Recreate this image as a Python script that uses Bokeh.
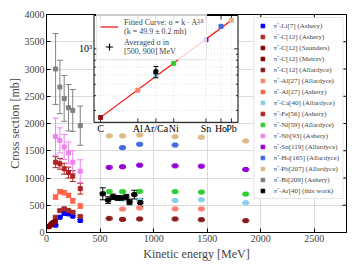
import math
from bokeh.plotting import figure
from bokeh.models import (ColumnDataSource, Whisker, TeeHead, Range1d, LogScale,
                          Legend, LegendItem, FixedTicker)
from bokeh.core.properties import value
from bokeh.embed import file_html
from bokeh.resources import INLINE

SERIF = "Liberation Serif"

# ---------------- data ----------------
ashery_E = [85, 125, 165, 205, 245, 315]
li_ashery = [135, 280, 350, 340, 300, 220]
li_ashery_err = [15, 15, 15, 15, 15, 15]
c_ashery = [280, 400, 435, 405, 370, 295]
c_ashery_err = [20, 20, 20, 20, 20, 20]
saunders_E = [20, 30, 40, 50, 60]
c_saunders = [105, 120, 140, 160, 180]
c_saunders_err = [10, 10, 10, 10, 10]
meirav_E = [50, 65, 80]
c_meirav = [150, 175, 205]
c_meirav_err = [12, 12, 12]
al_ashery = [650, 750, 730, 680, 580, 485]
al_ashery_err = [40, 40, 40, 40, 40, 40]
fe_ashery = [1290, 1260, 1170, 1100, 1035, 805]
fe_ashery_err = [100, 100, 100, 100, 100, 100]
nb_ashery = [1760, 1690, 1570, 1460, 1290, 1125]
nb_ashery_err = [340, 230, 230, 200, 210, 210]
bi_ashery = [3000, 2670, 2460, 2290, 2240, 1960]
bi_ashery_err = [650, 490, 420, 425, 385, 360]

allardyce_E = [585, 710, 870, 1200, 1445, 1860]
c_allardyce = [259, 241, 248, 248, 235, 217]
al_allardyce_E = [710, 870, 1200, 1445]
al_allardyce = [430, 450, 433, 433]
ca_allardyce_E = [710, 870, 1200, 1445, 1860]
ca_allardyce = [618, 590, 587, 600, 544]
ni_allardyce = [750, 750, 755, 750, 741, 705]
sn_allardyce = [1195, 1205, 1235, 1222, 1217, 1156]
ho_allardyce_E = [710, 870, 1200]
ho_allardyce = [1556, 1619, 1605]
pb_allardyce = [1772, 1772, 1790, 1759, 1748, 1680]
allardyce_xerr = 28
allardyce_yerr = 15

ar_E = [525, 575, 620, 665, 705, 745, 775, 820, 875]
ar_sigma = [710, 595, 655, 635, 630, 650, 560, 695, 550]
ar_err = [110, 60, 50, 45, 45, 50, 50, 80, 70]
ar_xerr = [25, 25, 25, 25, 25, 25, 25, 25, 25]

# inset (log-log): averaged sigma vs mass number
inset_tick_names = ["C", "Al", "Ar/Ca", "Ni", "Sn", "Ho", "Pb"]
inset_tick_A = [12, 27, 40, 59, 119, 165, 207]
inset_A = [12, 27, 40, 59, 119, 165, 207]
inset_sigma = [261, 445, 598, 753, 1194, 1553, 1746]
inset_colors = ["#8b1a1a", "#fa8072", "#87ceeb", "#32cd32", "#9400d3", "#4169e1", "#deb887"]
ar_avg_A = [40]
ar_avg_sigma = [638]
ar_avg_err = [70]
fit_k = 49.9
inset_A_lim = (10.4, 238.8)
inset_S_lim = (237.6, 1920.0)

x_ticks = [0, 500, 1000, 1500, 2000, 2500]
y_ticks = [0, 500, 1000, 1500, 2000, 2500, 3000, 3500, 4000]
X_MAX, Y_MAX = 2800, 4000

# ---------------- figure ----------------
FRAME_W, FRAME_H = 300, 218
p = figure(width=357, height=268, x_range=Range1d(0, X_MAX), y_range=Range1d(0, Y_MAX),
           output_backend="svg", toolbar_location=None,
           min_border_left=46, min_border_right=11, min_border_top=14, min_border_bottom=36)
p.background_fill_color = "white"
p.border_fill_color = "white"
p.outline_line_color = "black"
p.outline_line_width = 1

for ax in (p.xaxis[0], p.yaxis[0]):
    ax.major_label_text_font = SERIF
    ax.major_label_text_font_size = "10px"
    ax.axis_label_text_font = SERIF
    ax.axis_label_text_font_size = "12px"
    ax.axis_label_text_font_style = "normal"
    ax.major_tick_in = 4
    ax.major_tick_out = 0
    ax.minor_tick_line_color = None
    ax.axis_line_color = "black"
    ax.major_label_standoff = 2
    ax.axis_label_standoff = 2
p.yaxis[0].axis_label_standoff = 0
p.xaxis[0].ticker = FixedTicker(ticks=x_ticks)
p.yaxis[0].ticker = FixedTicker(ticks=y_ticks)
p.xaxis[0].axis_label = "Kinetic energy [MeV]"
p.yaxis[0].axis_label = "Cross section [mb]"
p.xgrid.ticker = FixedTicker(ticks=x_ticks)
p.ygrid.ticker = FixedTicker(ticks=y_ticks)
p.xgrid.grid_line_color = "#dcdcdc"
p.ygrid.grid_line_color = "#dcdcdc"


def const(vals, c):
    return [c for _ in vals]


# inward ticks on the top and right edges of the main frame
tlx = 4 * X_MAX / FRAME_W
tly = 4 * Y_MAX / FRAME_H
p.segment(x0=x_ticks, x1=x_ticks, y0=const(x_ticks, Y_MAX), y1=const(x_ticks, Y_MAX - tly),
          line_color="black", line_width=1)
p.segment(x0=const(y_ticks, X_MAX), x1=const(y_ticks, X_MAX - tlx), y0=y_ticks, y1=y_ticks,
          line_color="black", line_width=1)

items = []


def add_series(label, color, E, s, yerr, xerr=None, cap=6):
    src = ColumnDataSource(dict(
        x=E, y=s,
        yl=[a - b for a, b in zip(s, yerr)], yu=[a + b for a, b in zip(s, yerr)],
        xl=[a - b for a, b in zip(E, xerr)] if xerr else E,
        xu=[a + b for a, b in zip(E, xerr)] if xerr else E))
    p.add_layout(Whisker(source=src, base="x", lower="yl", upper="yu", dimension="height",
                         line_color=color, line_width=1,
                         upper_head=TeeHead(size=cap, line_color=color, line_width=1),
                         lower_head=TeeHead(size=cap, line_color=color, line_width=1)))
    if xerr:
        p.add_layout(Whisker(source=src, base="y", lower="xl", upper="xu", dimension="width",
                             line_color=color, line_width=1,
                             upper_head=TeeHead(size=3, line_color=color, line_width=1),
                             lower_head=TeeHead(size=3, line_color=color, line_width=1)))
    r = p.scatter("x", "y", source=src, marker="square", size=4, color=color)
    items.append(LegendItem(label=label, renderers=[r]))


add_series("π⁺-Li[7] (Ashery)", "#0000ff", ashery_E, li_ashery, li_ashery_err)
add_series("π⁺-C[12] (Ashery)", "#a52a2a", ashery_E, c_ashery, c_ashery_err)
add_series("π⁺-C[12] (Saunders)", "#8b0000", saunders_E, c_saunders, c_saunders_err)
add_series("π⁺-C[12] (Meirav)", "#800000", meirav_E, c_meirav, c_meirav_err)
add_series("π⁺-C[12] (Allardyce)", "#8b1a1a", allardyce_E, c_allardyce,
           const(allardyce_E, allardyce_yerr), const(allardyce_E, allardyce_xerr), cap=4)
add_series("π⁺-Al[27] (Allardyce)", "#fa8072", al_allardyce_E, al_allardyce,
           const(al_allardyce_E, allardyce_yerr), const(al_allardyce_E, allardyce_xerr), cap=4)
add_series("π⁺-Al[27] (Ashery)", "#ff6347", ashery_E, al_ashery, al_ashery_err)
add_series("π⁺-Ca[40] (Allardyce)", "#87ceeb", ca_allardyce_E, ca_allardyce,
           const(ca_allardyce_E, allardyce_yerr), const(ca_allardyce_E, allardyce_xerr), cap=4)
add_series("π⁺-Fe[56] (Ashery)", "#b22222", ashery_E, fe_ashery, fe_ashery_err)
add_series("π⁺-Ni[59] (Allardyce)", "#32cd32", allardyce_E, ni_allardyce,
           const(allardyce_E, allardyce_yerr), const(allardyce_E, allardyce_xerr), cap=4)
add_series("π⁺-Nb[93] (Ashery)", "#ee82ee", ashery_E, nb_ashery, nb_ashery_err)
add_series("π⁺-Sn[119] (Allardyce)", "#9400d3", allardyce_E, sn_allardyce,
           const(allardyce_E, allardyce_yerr), const(allardyce_E, allardyce_xerr), cap=4)
add_series("π⁺-Ho[165] (Allardyce)", "#4169e1", ho_allardyce_E, ho_allardyce,
           const(ho_allardyce_E, allardyce_yerr), const(ho_allardyce_E, allardyce_xerr), cap=4)
add_series("π⁺-Pb[207] (Allardyce)", "#deb887", allardyce_E, pb_allardyce,
           const(allardyce_E, allardyce_yerr), const(allardyce_E, allardyce_xerr), cap=4)
add_series("π⁺-Bi[209] (Ashery)", "#808080", ashery_E, bi_ashery, bi_ashery_err)
add_series("π⁺-Ar[40] (this work)", "#000000", ar_E, ar_sigma, ar_err, ar_xerr)

legend = Legend(items=items, location="top_right", margin=3, padding=3, spacing=2,
                glyph_height=9, glyph_width=10, label_height=9, label_standoff=6,
                label_text_font=SERIF, label_text_font_size="7px",
                border_line_color="#cccccc", border_line_width=1,
                background_fill_alpha=0.85)
p.add_layout(legend)

# ---------------- inset (log-log, drawn on extra ranges) ----------------
IN_L, IN_R, IN_T, IN_B = 47.5, 191.5, 1.0, 107.8   # inset box in frame pixels
lA0, lA1 = math.log10(inset_A_lim[0]), math.log10(inset_A_lim[1])
lS0, lS1 = math.log10(inset_S_lim[0]), math.log10(inset_S_lim[1])
dx = (lA1 - lA0) / (IN_R - IN_L)
dy = (lS1 - lS0) / (IN_B - IN_T)
lx0 = lA0 - IN_L * dx
ly_top = lS1 + IN_T * dy
p.extra_x_ranges = {"ins": Range1d(10 ** lx0, 10 ** (lx0 + FRAME_W * dx))}
p.extra_y_ranges = {"ins": Range1d(10 ** (ly_top - FRAME_H * dy), 10 ** ly_top)}
p.extra_x_scales = {"ins": LogScale()}
p.extra_y_scales = {"ins": LogScale()}
KW = dict(x_range_name="ins", y_range_name="ins")

p.quad(left=[inset_A_lim[0]], right=[inset_A_lim[1]], bottom=[inset_S_lim[0]], top=[inset_S_lim[1]],
       fill_color="white", line_color="black", line_width=1, **KW)

y_minor = [300, 400, 500, 600, 700, 800, 900, 1000]
# faint dotted grid
p.segment(x0=inset_tick_A, x1=inset_tick_A, y0=const(inset_tick_A, inset_S_lim[0]),
          y1=const(inset_tick_A, inset_S_lim[1]), line_color="#b0b0b0", line_alpha=0.6,
          line_width=0.6, line_dash="1 2", **KW)
p.segment(x0=const(y_minor, inset_A_lim[0]), x1=const(y_minor, inset_A_lim[1]), y0=y_minor,
          y1=y_minor, line_color="#b0b0b0", line_alpha=0.6, line_width=0.6, line_dash="1 2", **KW)
# inward ticks
fy_major = 10 ** (4 * dy)
tick_px = [4 if v == 1000 else 2 for v in y_minor]
p.segment(x0=const(y_minor, inset_A_lim[0]), x1=[inset_A_lim[0] * 10 ** (t * dx) for t in tick_px],
          y0=y_minor, y1=y_minor, line_color="black", line_width=0.8, **KW)
p.segment(x0=const(y_minor, inset_A_lim[1]), x1=[inset_A_lim[1] / 10 ** (t * dx) for t in tick_px],
          y0=y_minor, y1=y_minor, line_color="black", line_width=0.8, **KW)
p.segment(x0=inset_tick_A, x1=inset_tick_A, y0=const(inset_tick_A, inset_S_lim[0]),
          y1=const(inset_tick_A, inset_S_lim[0] * fy_major), line_color="black", line_width=0.8, **KW)
p.segment(x0=inset_tick_A, x1=inset_tick_A, y0=const(inset_tick_A, inset_S_lim[1]),
          y1=const(inset_tick_A, inset_S_lim[1] / fy_major), line_color="black", line_width=0.8, **KW)

# tick labels of the inset
p.text(x=inset_tick_A, y=const(inset_tick_A, inset_S_lim[0]), text=inset_tick_names,
       text_font=value(SERIF), text_font_size="10px", text_align="center", text_baseline="top",
       y_offset=1, text_color="black", **KW)
p.text(x=[inset_A_lim[0]], y=[1000], text=["10³"], text_font=value(SERIF), text_font_size="10px",
       text_align="right", text_baseline="middle", x_offset=-2, text_color="black", **KW)

# fitted curve sigma = k * A^(2/3)
fit_A = [min(inset_A), max(inset_A)]
fit_line = p.line(x=fit_A, y=[fit_k * a ** (2.0 / 3.0) for a in fit_A], line_color="red",
                  line_width=1.2, **KW)

p.scatter(x=inset_A, y=inset_sigma, marker="square", size=4, color=inset_colors, **KW)

avg_src = ColumnDataSource(dict(x=ar_avg_A, y=ar_avg_sigma,
                                lo=[a - b for a, b in zip(ar_avg_sigma, ar_avg_err)],
                                hi=[a + b for a, b in zip(ar_avg_sigma, ar_avg_err)]))
p.add_layout(Whisker(source=avg_src, base="x", lower="lo", upper="hi", dimension="height",
                     line_color="black", line_width=1, level="glyph",
                     upper_head=TeeHead(size=5, line_color="black", line_width=1),
                     lower_head=TeeHead(size=5, line_color="black", line_width=1), **KW))
p.scatter("x", "y", source=avg_src, marker="square", size=4, color="black", **KW)
# zero-size markers: only visible as the error-bar icon of the inset legend
icon_bar = p.scatter("x", "y", source=avg_src, marker="cross", size=0,
                     line_color="black", line_width=1.2, **KW)
icon_dot = p.scatter("x", "y", source=avg_src, marker="dot", size=0,
                     line_color="black", fill_color="black", line_width=2, **KW)

inset_legend = Legend(items=[
    LegendItem(label="Fitted Curve: σ = k · A²⁄³\n(k = 49.9 ± 0.2 mb)", renderers=[fit_line]),
    LegendItem(label="Averaged σ in\n[500, 900] MeV", renderers=[icon_bar, icon_dot])],
    location=(50, 172), margin=0, padding=3, spacing=1, glyph_width=18, glyph_height=19,
    label_height=19, label_standoff=6, label_text_font=SERIF, label_text_font_size="8px",
    border_line_color="#cccccc", border_line_width=1, background_fill_alpha=0.8)
p.add_layout(inset_legend)

open("out.html", "w").write(file_html(p, INLINE))
